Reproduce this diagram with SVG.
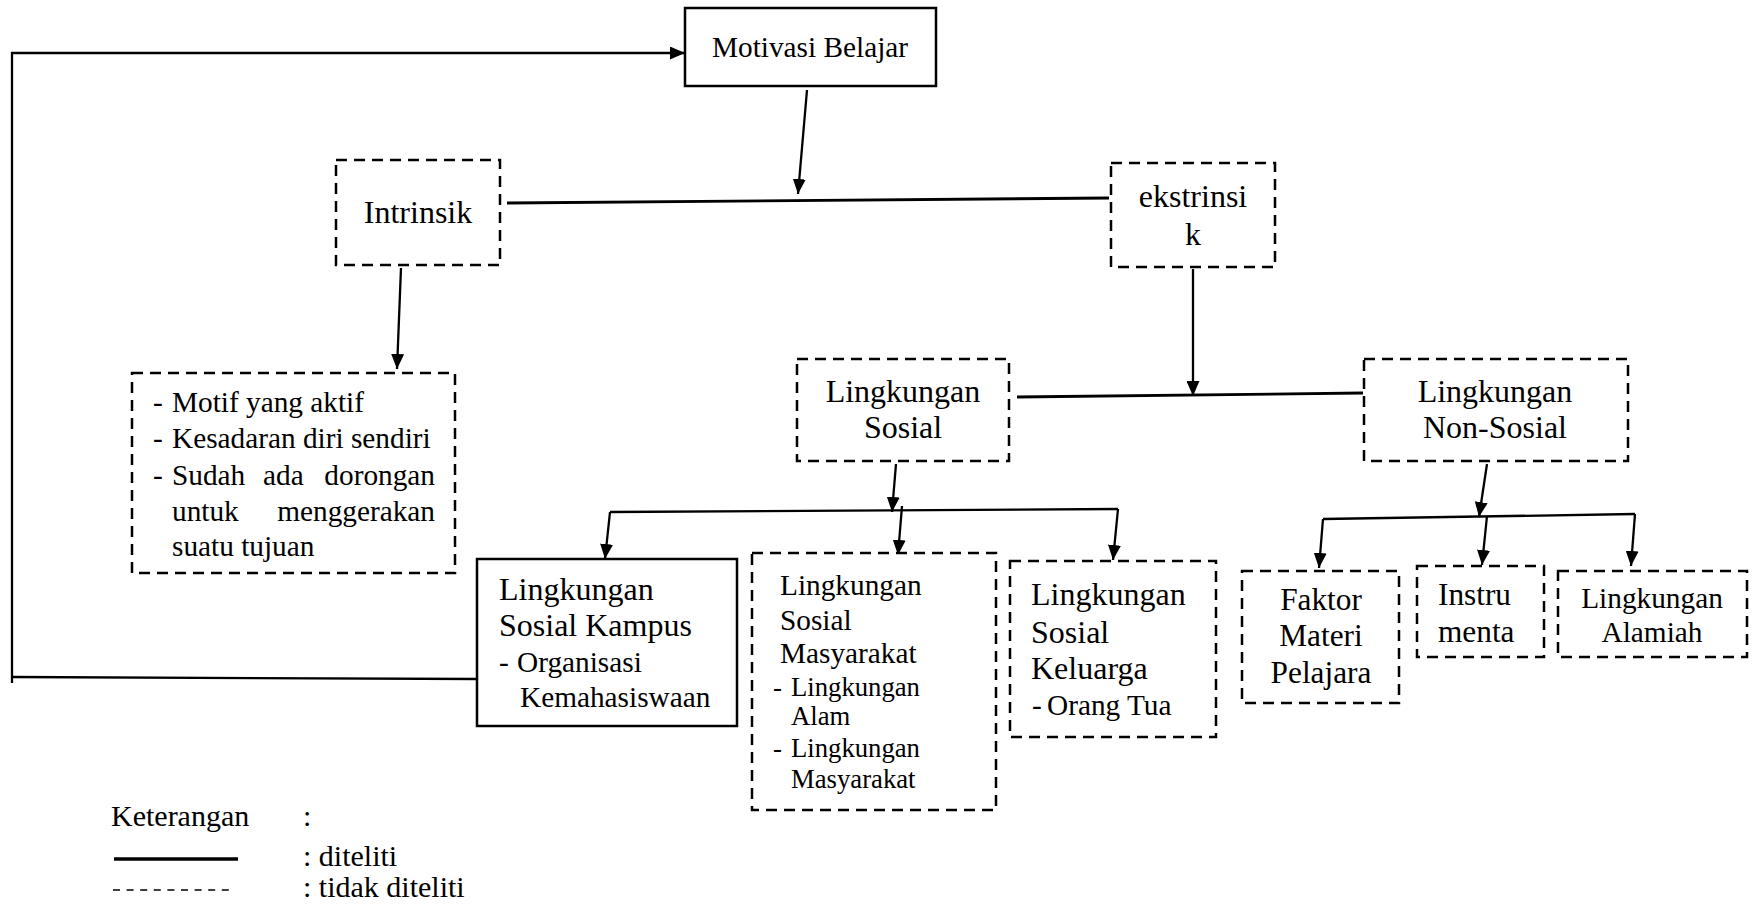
<svg xmlns="http://www.w3.org/2000/svg" width="1756" height="904" viewBox="0 0 1756 904">
<style>
text{font-family:"Liberation Serif","Times New Roman",serif;fill:#000}
.f32{font-size:32px}
.f29{font-size:29.3px}
.f27{font-size:26.7px}
.f31{font-size:31.3px}
.c{text-anchor:middle}
.e{text-anchor:end}
.box{fill:#fff;stroke:#000;stroke-width:2.5}
.dash{fill:#fff;stroke:#000;stroke-width:2.5;stroke-dasharray:11 7}
.ln{fill:none;stroke:#000;stroke-width:2.3}
.arr{fill:none;stroke:#000;stroke-width:2.3;marker-end:url(#ah)}
</style>
<defs>
<marker id="ah" markerUnits="userSpaceOnUse" markerWidth="15" markerHeight="13" refX="15" refY="6.5" orient="auto">
<path d="M0,0 L15,6.5 L0,13 z" fill="#000"/>
</marker>
</defs>
<rect width="1756" height="904" fill="#fff"/>
<g id="connectors">
<polyline class="ln" points="477,679 12,677"/>
<line class="ln" x1="12" y1="683" x2="12" y2="52"/>
<line class="arr" x1="11" y1="53" x2="685" y2="53"/>
<line class="arr" x1="807" y1="90" x2="798" y2="194"/>
<line class="ln" x1="507" y1="203" x2="1109" y2="198" style="stroke-width:2.8"/>
<line class="arr" x1="401" y1="268" x2="397" y2="369"/>
<line class="arr" x1="1193" y1="269" x2="1193" y2="396"/>
<line class="ln" x1="1017" y1="397" x2="1363" y2="393" style="stroke-width:2.8"/>
<line class="arr" x1="896" y1="464" x2="892" y2="512"/>
<line class="ln" x1="610" y1="512" x2="1118" y2="509"/>
<line class="arr" x1="610" y1="512" x2="605" y2="559"/>
<line class="arr" x1="902" y1="506" x2="898" y2="555"/>
<line class="arr" x1="1118" y1="509" x2="1113" y2="560"/>
<line class="arr" x1="1487" y1="464" x2="1479" y2="517"/>
<line class="ln" x1="1323" y1="519" x2="1635" y2="514"/>
<line class="arr" x1="1323" y1="519" x2="1319" y2="568"/>
<line class="arr" x1="1487" y1="516" x2="1482" y2="565"/>
<line class="arr" x1="1635" y1="514" x2="1631" y2="566"/>
</g>
<g id="motivasi">
<rect class="box" x="685" y="8" width="251" height="78"/>
<text class="f29 c" x="810" y="57">Motivasi Belajar</text>
</g>
<g id="intrinsik">
<rect class="dash" x="336" y="160" width="164" height="105"/>
<text class="f32 c" x="418" y="223">Intrinsik</text>
</g>
<g id="ekstrinsik">
<rect class="dash" x="1111" y="163" width="164" height="104"/>
<text class="f32 c" x="1193" y="207">ekstrinsi</text>
<text class="f32 c" x="1193" y="245">k</text>
</g>
<g id="motif">
<rect class="dash" x="132" y="373" width="323" height="200"/>
<g class="f29">
<text x="153" y="412">-</text><text x="172" y="412">Motif yang aktif</text>
<text x="153" y="448">-</text><text x="172" y="448">Kesadaran diri sendiri</text>
<text x="153" y="485">-</text><text x="172" y="485">Sudah</text><text x="263" y="485">ada</text><text class="e" x="435" y="485">dorongan</text>
<text x="172" y="521">untuk</text><text class="e" x="435" y="521">menggerakan</text>
<text x="172" y="556">suatu tujuan</text>
</g>
</g>
<g id="sosial">
<rect class="dash" x="797" y="359" width="212" height="102"/>
<text class="f32 c" x="903" y="402">Lingkungan</text>
<text class="f32 c" x="903" y="438">Sosial</text>
</g>
<g id="nonsosial">
<rect class="dash" x="1364" y="359" width="264" height="102"/>
<text class="f32 c" x="1495" y="402">Lingkungan</text>
<text class="f32 c" x="1495" y="438">Non-Sosial</text>
</g>
<g id="kampus">
<rect class="box" x="477" y="559" width="260" height="167"/>
<text class="f32" x="499" y="600">Lingkungan</text>
<text class="f32" x="499" y="636">Sosial Kampus</text>
<text class="f29" x="499" y="672">-</text><text class="f29" x="517" y="672">Organisasi</text>
<text class="f29" x="520" y="707">Kemahasiswaan</text>
</g>
<g id="masyarakat">
<rect class="dash" x="752" y="553" width="244" height="257"/>
<text class="f29" x="780" y="595">Lingkungan</text>
<text class="f29" x="780" y="630">Sosial</text>
<text class="f29" x="780" y="663">Masyarakat</text>
<text class="f27" x="773" y="696">-</text><text class="f27" x="791" y="696">Lingkungan</text>
<text class="f27" x="791" y="725">Alam</text>
<text class="f27" x="773" y="757">-</text><text class="f27" x="791" y="757">Lingkungan</text>
<text class="f27" x="791" y="788">Masyarakat</text>
</g>
<g id="keluarga">
<rect class="dash" x="1010" y="561" width="206" height="176"/>
<text class="f32" x="1031" y="605">Lingkungan</text>
<text class="f32" x="1031" y="643">Sosial</text>
<text class="f32" x="1031" y="679">Keluarga</text>
<text class="f29" x="1032" y="715">-</text><text class="f29" x="1047" y="715">Orang Tua</text>
</g>
<g id="faktor">
<rect class="dash" x="1242" y="571" width="157" height="132"/>
<text class="f31 c" x="1321" y="610">Faktor</text>
<text class="f31 c" x="1321" y="646">Materi</text>
<text class="f31 c" x="1321" y="683">Pelajara</text>
</g>
<g id="instrumenta">
<rect class="dash" x="1417" y="566" width="127" height="91"/>
<text class="f31" x="1438" y="605">Instru</text>
<text class="f31" x="1438" y="642">menta</text>
</g>
<g id="alamiah">
<rect class="dash" x="1558" y="571" width="189" height="86"/>
<text class="f29 c" x="1652" y="608">Lingkungan</text>
<text class="f29 c" x="1652" y="642">Alamiah</text>
</g>
<g id="legend">
<text style="font-size:30px" x="111" y="826">Keterangan</text>
<text style="font-size:30px" x="303" y="826">:</text>
<line x1="114" y1="859" x2="238" y2="859" stroke="#000" stroke-width="3.5"/>
<text style="font-size:30px" x="303" y="866">: diteliti</text>
<line x1="113" y1="890" x2="229" y2="890" stroke="#000" stroke-width="1.5" stroke-dasharray="7 6.6"/>
<text style="font-size:30px" x="303" y="897">: tidak diteliti</text>
</g>
</svg>
